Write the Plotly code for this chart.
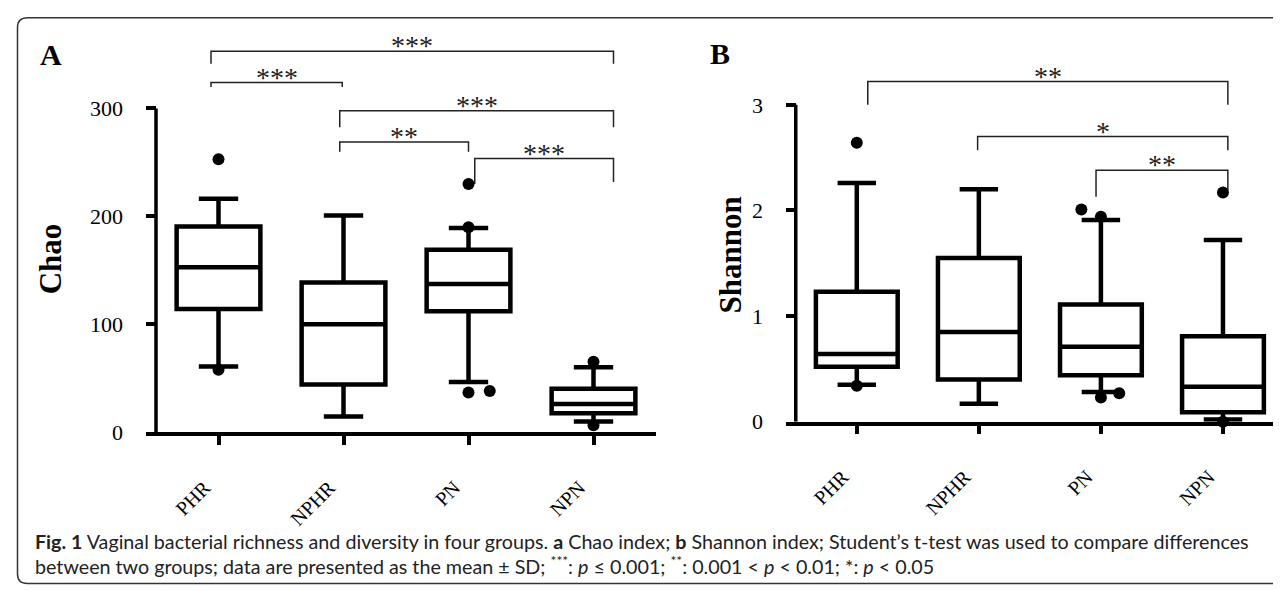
import plotly.graph_objects as go

W, H = 1281, 590

categories = ["PHR", "NPHR", "PN", "NPN"]
cat_pos = [0, 1, 2, 3]

# Panel A: Chao
chao_q1 = [114.4, 44.4, 112.3, 17.8]
chao_median = [153.0, 100.3, 137.4, 26.3]
chao_q3 = [190.8, 138.9, 169.1, 40.5]
chao_low = [61.0, 14.8, 46.8, 10.2]
chao_high = [216.5, 200.8, 189.3, 60.4]
chao_out_group = [0, 0, 2, 2, 2, 2, 3, 3]
chao_out_value = [253.0, 58.0, 230.0, 190.0, 36.9, 38.3, 65.5, 6.6]
chao_out_dodge = [0, 0, 0, 0, 0, 0.17, 0, 0]
chao_ticks = [0, 100, 200, 300]

chao_sig_labels = ["***", "***", "***", "**", "***"]
chao_sig_x0 = [-0.06, -0.06, 0.97, 0.97, 2.05]
chao_sig_x1 = [3.16, 0.99, 3.16, 2.0, 3.16]
chao_sig_bar = [353.0, 324.0, 298.0, 269.0, 253.6]
chao_sig_left = [341.5, 320.0, 282.6, 260.0, 230.0]
chao_sig_right = [341.5, 320.0, 282.6, 260.0, 232.0]

# Panel B: Shannon
shannon_q1 = [0.52, 0.40, 0.44, 0.09]
shannon_median = [0.64, 0.85, 0.71, 0.33]
shannon_q3 = [1.23, 1.55, 1.11, 0.81]
shannon_low = [0.35, 0.17, 0.28, 0.02]
shannon_high = [2.26, 2.20, 1.91, 1.72]
shannon_out_group = [0, 0, 2, 2, 2, 2, 3, 3]
shannon_out_value = [2.64, 0.34, 2.01, 1.94, 0.23, 0.27, 2.17, 0.0]
shannon_out_dodge = [0, 0, -0.16, 0, 0, 0.15, 0, 0]
shannon_ticks = [0, 1, 2, 3]

shannon_sig_labels = ["**", "*", "**"]
shannon_sig_x0 = [0.09, 0.99, 1.96]
shannon_sig_x1 = [3.04, 3.04, 3.04]
shannon_sig_bar = [3.22, 2.70, 2.38]
shannon_sig_left = [3.0, 2.57, 2.13]
shannon_sig_right = [3.0, 2.57, 2.19]

caption_line1 = ("<b>Fig. 1</b> Vaginal bacterial richness and diversity in four groups. "
                 "<b>a</b> Chao index; <b>b</b> Shannon index; Student’s t-test was used to compare differences")
caption_line2 = ("between two groups; data are presented as the mean ± SD; <sup>***</sup>: <i>p</i> ≤ 0.001; "
                 "<sup>**</sup>: 0.001 &lt; <i>p</i> &lt; 0.01; *: <i>p</i> &lt; 0.05")

SERIF = "Liberation Serif, Times New Roman, serif"
AXW = 3.5
BOXW = 4.5

fig = go.Figure()

panels = [
    dict(xa="x", ya="y", q1=chao_q1, med=chao_median, q3=chao_q3, lo=chao_low, hi=chao_high,
         og=chao_out_group, ov=chao_out_value, od=chao_out_dodge,
         sl=chao_sig_labels, sx0=chao_sig_x0, sx1=chao_sig_x1, sb=chao_sig_bar,
         sL=chao_sig_left, sR=chao_sig_right, ticks=chao_ticks),
    dict(xa="x2", ya="y2", q1=shannon_q1, med=shannon_median, q3=shannon_q3, lo=shannon_low, hi=shannon_high,
         og=shannon_out_group, ov=shannon_out_value, od=shannon_out_dodge,
         sl=shannon_sig_labels, sx0=shannon_sig_x0, sx1=shannon_sig_x1, sb=shannon_sig_bar,
         sL=shannon_sig_left, sR=shannon_sig_right, ticks=shannon_ticks),
]

shapes = []
annotations = []
for p in panels:
    fig.add_trace(go.Box(
        x=cat_pos, q1=p["q1"], median=p["med"], q3=p["q3"],
        lowerfence=p["lo"], upperfence=p["hi"],
        xaxis=p["xa"], yaxis=p["ya"], fillcolor="white",
        line=dict(color="black", width=BOXW), whiskerwidth=0.47, width=0.67,
        boxpoints=False, hoverinfo="skip", showlegend=False))
    fig.add_trace(go.Scatter(
        x=[g + d for g, d in zip(p["og"], p["od"])], y=p["ov"],
        mode="markers", marker=dict(size=12, color="black"),
        xaxis=p["xa"], yaxis=p["ya"], cliponaxis=False,
        hoverinfo="skip", showlegend=False))
    # y axis line from 0 to top tick
    shapes.append(dict(type="line", xref=p["xa"], yref=p["ya"], x0=-0.5, x1=-0.5,
                       y0=p["ticks"][0], y1=p["ticks"][-1],
                       line=dict(color="black", width=AXW)))
    for lab, x0, x1, b, l, r in zip(p["sl"], p["sx0"], p["sx1"], p["sb"], p["sL"], p["sR"]):
        shapes.append(dict(type="path", xref=p["xa"], yref=p["ya"],
                           path=f"M {x0},{l} L {x0},{b} L {x1},{b} L {x1},{r}",
                           line=dict(color="#222", width=1.5)))
        annotations.append(dict(xref=p["xa"], yref=p["ya"], x=(x0 + x1) / 2, y=b,
                                text=lab, showarrow=False, xanchor="center", yanchor="bottom",
                                yshift=-12, font=dict(family=SERIF, size=28, color="#222")))


def px(xp):
    return xp / W


def py(yp):
    return 1 - yp / H


axis_common = dict(showgrid=False, zeroline=False, color="black")
xcommon = dict(axis_common, showline=True, linecolor="black", linewidth=AXW,
               ticks="outside", ticklen=9, tickwidth=AXW, tickcolor="black",
               tickvals=cat_pos, ticktext=categories, tickangle=-45,
               tickfont=dict(family=SERIF, size=20, color="black"),
               range=[-0.58, 3.5], ticklabelstandoff=23, ticklabelshift=-14)
ycommon = dict(axis_common, showline=False, ticks="inside", ticklen=10, tickwidth=AXW,
               tickcolor="black", tickfont=dict(family=SERIF, size=22, color="black"),
               ticklabelstandoff=22)

fig.update_layout(
    width=W, height=H, margin=dict(l=0, r=0, t=0, b=0),
    paper_bgcolor="white", plot_bgcolor="white", showlegend=False,
    xaxis=dict(xcommon, domain=[px(138), px(648)], anchor="y"),
    yaxis=dict(ycommon, domain=[py(434), py(36.5)], range=[0, 360],
               tickvals=chao_ticks, anchor="x"),
    xaxis2=dict(xcommon, domain=[px(778), px(1276)], anchor="y2"),
    yaxis2=dict(ycommon, domain=[py(423), py(34.2)], range=[0, 3.6],
                tickvals=shannon_ticks, anchor="x2"),
)

# panel letters and axis titles
annotations += [
    dict(xref="paper", yref="paper", x=px(43), y=py(48), text="<b>A</b>", showarrow=False,
         xanchor="center", yanchor="middle", font=dict(family=SERIF, size=30, color="black")),
    dict(xref="paper", yref="paper", x=px(712), y=py(47), text="<b>B</b>", showarrow=False,
         xanchor="center", yanchor="middle", font=dict(family=SERIF, size=30, color="black")),
    dict(xref="paper", yref="paper", x=px(42), y=py(257), text="<b>Chao</b>", showarrow=False,
         textangle=-90, xanchor="center", yanchor="middle",
         font=dict(family=SERIF, size=31, color="black")),
    dict(xref="paper", yref="paper", x=px(722), y=py(253), text="<b>Shannon</b>", showarrow=False,
         textangle=-90, xanchor="center", yanchor="middle",
         font=dict(family=SERIF, size=31, color="black")),
    dict(xref="paper", yref="paper", x=px(25), y=py(546), text=caption_line1, showarrow=False,
         xanchor="left", yanchor="middle", font=dict(family="Lato", size=19.7, color="#222")),
    dict(xref="paper", yref="paper", x=px(25), y=py(570), text=caption_line2, showarrow=False,
         xanchor="left", yanchor="middle", font=dict(family="Lato", size=19.7, color="#222")),
]

# rounded frame around the figure
x0f, ytf, ybf = px(9.5), py(10), py(588.5)
rx, ry = 10 / W, 10 / H
frame_path = (f"M 1.02,{ytf} L {x0f + rx},{ytf} Q {x0f},{ytf} {x0f},{ytf - ry} "
              f"L {x0f},{ybf + ry} Q {x0f},{ybf} {x0f + rx},{ybf} L 1.02,{ybf}")
shapes.append(dict(type="path", xref="paper", yref="paper", path=frame_path,
                   line=dict(color="#333", width=1.5)))

fig.update_layout(shapes=shapes, annotations=annotations)
fig.write_html("out.html")
